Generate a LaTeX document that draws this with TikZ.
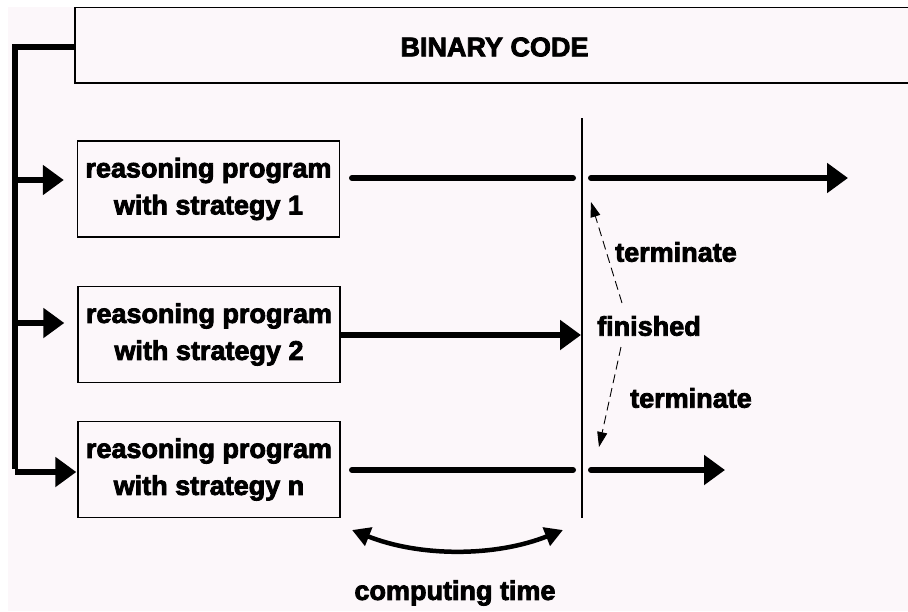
\documentclass[tikz,border=0pt]{standalone}
\usepackage{fontspec}
\setmainfont{Liberation Sans}
\newfontfamily\heavy{Liberation Sans Bold}[FakeBold=3]
\usetikzlibrary{arrows.meta}

\definecolor{paper}{HTML}{FCF7FA}

\tikzset{
  label text/.style={font=\heavy\fontsize{27}{37}\selectfont, text=black, inner sep=0pt},
  progbox/.style={draw=black, line width=1.4pt, fill=paper, minimum width=262pt,
    minimum height=96pt, inner sep=0pt, align=center, label text},
  thickline/.style={line width=6pt, line cap=round},
  thickarrow/.style={line width=6pt, -{Triangle[length=21pt,width=29pt]}},
  dasharrow/.style={line width=0.9pt, dash pattern=on 9pt off 5pt,
    -{Triangle[length=15pt,width=10pt]}},
  timearrow/.style={line width=4.5pt, {Triangle[length=18pt,width=19pt]}-{Triangle[length=18pt,width=19pt]}},
}

\begin{document}
\begin{tikzpicture}[x=1pt, y=-1pt]
  \useasboundingbox (0,0) rectangle (908,611);
  \clip (0,0) rectangle (908,611);
  \fill[white] (0,0) rectangle (908,611);
  \fill[paper] (8,7) rectangle (908,611);

  % top block, running off the right edge
  \node[draw=black, line width=1.4pt, minimum width=845pt, minimum height=75.5pt,
        inner sep=0pt] (bin) at (497.5,45.25) {};
  \node[label text] (bintext) at (494.5,47) {BINARY CODE};

  % the three reasoning programs
  \node[progbox] (p1) at (208.5,189) {reasoning program\\with strategy 1};
  \node[progbox] (p2) at (209,334.5) {reasoning program\\with strategy 2};
  \node[progbox] (p3) at (209,469.5) {reasoning program\\with strategy n};

  % distribution bus from the binary code to every program
  \coordinate (busTop) at (15,47);
  \coordinate (bus1) at (15,180);
  \coordinate (bus2) at (15,323);
  \coordinate (bus3) at (15,472);
  \draw[thickline, line cap=butt, line join=miter] (bin.west |- busTop) -- (busTop) -- ([yshift=3pt]bus3);
  \draw[thickarrow, shorten >=13pt] (bus1) -- (bus1 -| p1.west);
  \draw[thickarrow, shorten >=13pt] (bus2) -- (bus2 -| p2.west);
  \draw[thickarrow, shorten >=1pt] (bus3) -- (bus3 -| p3.west);

  % time line where the first program finishes
  \coordinate (vtop) at (582,118);
  \coordinate (vbot) at (582,518);
  \draw[line width=1.4pt] (vtop) -- (vbot);

  % program runs
  \coordinate (r1a) at (352,178);
  \coordinate (r1b) at (573,178);
  \coordinate (r1c) at (591,178);
  \coordinate (r1d) at (848,178);
  \draw[thickline] (r1a) -- (r1b);
  \draw[thickarrow, line cap=round] (r1c) -- (r1d);

  \coordinate (r2b) at (581,335);
  \draw[thickarrow] (p2.east |- r2b) -- (r2b);

  \coordinate (r3a) at (352,470);
  \coordinate (r3b) at (573,470);
  \coordinate (r3c) at (591,470);
  \coordinate (r3d) at (725,470);
  \draw[thickline] (r3a) -- (r3b);
  \draw[thickarrow, line cap=round] (r3c) -- (r3d);

  % labels at the finish line
  \node[label text] (term1) at (676,252) {terminate};
  \node[label text] (fin) at (649,326) {finished};
  \node[label text] (term2) at (691,398) {terminate};

  \coordinate (up0) at (622,303);
  \coordinate (up1) at (591,202);
  \coordinate (dn0) at (621,347);
  \coordinate (dn1) at (599,447);
  \draw[dasharrow] (up0) -- (up1);
  \draw[dasharrow] (dn0) -- (dn1);

  % computing time
  \coordinate (ct0) at (352,530);
  \coordinate (ct1) at (563,530);
  \draw[timearrow] (ct0) .. controls (420,557) and (495,557) .. (ct1);
  \node[label text] (ctime) at (455,593) {computing time};
\end{tikzpicture}
\end{document}
